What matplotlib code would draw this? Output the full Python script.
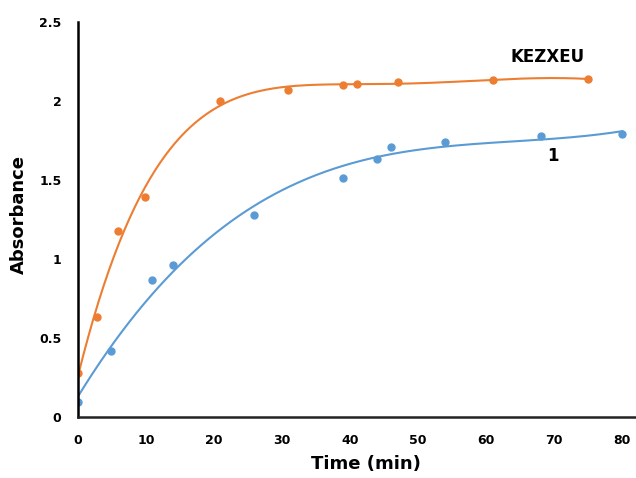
import numpy as np
import matplotlib.pyplot as plt

# Data
t_orange = [0, 2.8, 5.9, 9.8, 20.8, 30.8, 38.9, 41, 47, 61, 75]
a_orange = [0.28, 0.63, 1.18, 1.39, 2.00, 2.07, 2.10, 2.11, 2.12, 2.13, 2.14]

t_blue = [0, 4.9, 10.9, 13.9, 25.9, 38.9, 44, 46, 54, 68, 80]
a_blue = [0.095, 0.42, 0.87, 0.96, 1.28, 1.51, 1.63, 1.71, 1.74, 1.78, 1.79]

orange = '#ED7D31'
blue = '#5B9BD5'

fig = plt.figure(figsize=(6.36, 4.78), dpi=100)
ax = fig.add_axes([78/636, 61/478, 558/636, 395/478])

# trendlines (polynomial fits, like the spreadsheet ones)
po = np.polyfit(t_orange, a_orange, 5)
xo = np.linspace(0, 75, 300)
ax.plot(xo, np.polyval(po, xo), color=orange, lw=1.5)

pb = np.polyfit(t_blue, a_blue, 3)
xb = np.linspace(0, 80, 300)
ax.plot(xb, np.polyval(pb, xb), color=blue, lw=1.5)

ax.plot(t_orange, a_orange, 'o', color=orange, ms=5)
ax.plot(t_blue, a_blue, 'o', color=blue, ms=5)

ax.text(69, 2.28, 'KEZXEU', fontsize=12, fontweight='bold', ha='center', va='center')
ax.text(69.8, 1.65, '1', fontsize=12, fontweight='bold', ha='center', va='center')

ax.set_xlim(0, 82)
ax.set_ylim(0, 2.5)
ax.set_xticks(range(0, 81, 10))
ax.set_yticks([0, 0.5, 1, 1.5, 2, 2.5])
ax.set_yticklabels(['0', '0.5', '1', '1.5', '2', '2.5'])
ax.tick_params(length=0, labelsize=9, pad=12)
for lab in ax.get_xticklabels() + ax.get_yticklabels():
    lab.set_fontweight('bold')

ax.spines['top'].set_visible(False)
ax.spines['right'].set_visible(False)
ax.spines['left'].set_linewidth(1.8)
ax.spines['bottom'].set_linewidth(1.8)
ax.spines['bottom'].set_color('#222222')

ax.set_xlabel('Time (min)', fontsize=13, fontweight='bold')
ax.set_ylabel('Absorbance', fontsize=13, fontweight='bold')
ax.xaxis.set_label_coords(0.516, -0.095)
ax.yaxis.set_label_coords(-0.09, 0.513)

fig.savefig('out.png', dpi=100)
